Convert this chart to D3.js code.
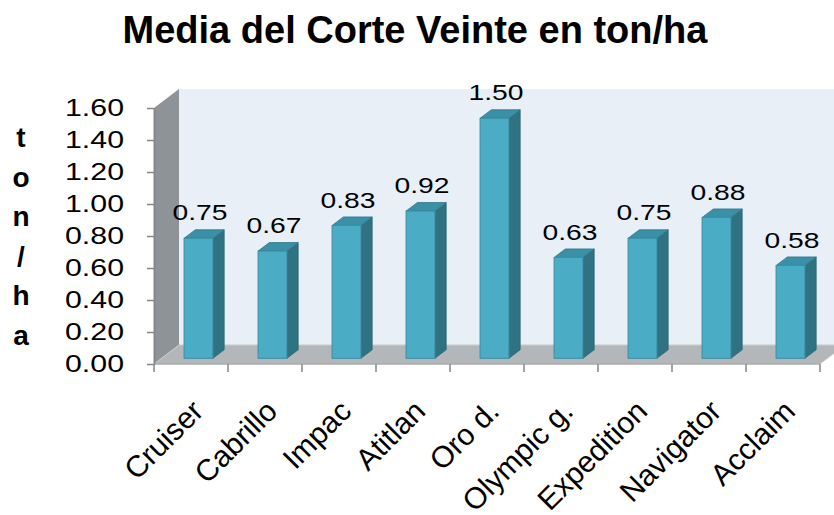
<!DOCTYPE html>
<html>
<head>
<meta charset="utf-8">
<script src="https://cdnjs.cloudflare.com/ajax/libs/d3/7.8.5/d3.min.js"></script>
<style>
body { margin: 0; background: #fff; }
text { font-family: "Liberation Sans", Arial, sans-serif; }
</style>
</head>
<body>
<svg width="834" height="515"></svg>
<script>
var categories = ["Cruiser", "Cabrillo", "Impac", "Atitlan", "Oro d.", "Olympic g.", "Expedition", "Navigator", "Acclaim"];
var values = [0.75, 0.67, 0.83, 0.92, 1.50, 0.63, 0.75, 0.88, 0.58];
var yTicks = [0, 0.2, 0.4, 0.6, 0.8, 1.0, 1.2, 1.4, 1.6];
var yTitle = ["t", "o", "n", "/", "h", "a"];
var title = "Media del Corte Veinte en ton/ha";

var svg = d3.select("svg");

var x = d3.scaleBand().domain(categories).range([154, 820]);
var y = d3.scaleLinear().domain([0, 1.6]).range([364, 108]);

// depth of the 3d box
var dx = 25, dy = -19;
var x0 = x.range()[0], x1 = x.range()[1];
var yb = y(0), yt = y(1.6);

function poly(pts) { return "M" + pts.map(function(p) { return p.join(","); }).join("L") + "Z"; }

// walls
svg.append("path").attr("d", poly([[x0 + dx, yt + dy], [x1 + dx, yt + dy], [x1 + dx, yb + dy], [x0 + dx, yb + dy]]))
  .attr("fill", "#e8eff7");
svg.append("path").attr("d", poly([[x0, yt], [x0 + dx, yt + dy], [x0 + dx, yb + dy], [x0, yb]]))
  .attr("fill", "#8e9397");
svg.append("path").attr("d", poly([[x0, yb], [x1, yb], [x1 + dx, yb + dy], [x0 + dx, yb + dy]]))
  .attr("fill", "#b4b7ba").attr("stroke", "#c9cbcd").attr("stroke-width", 1);

// bars
var bw = x.bandwidth() * 0.39;
var fo = 0.3, bo = 0.75; // front / back depth fraction
var bars = svg.append("g").selectAll("g").data(values).enter().append("g");

bars.each(function(v, i) {
  var g = d3.select(this);
  var cx = x(categories[i]) + x.bandwidth() / 2;
  var l = cx + dx * fo - bw / 2, r = l + bw;
  var top = y(v) + dy * fo, bot = y(0) + dy * fo;
  var ox = dx * (bo - fo), oy = dy * (bo - fo);
  g.append("path").attr("d", poly([[r, top], [r + ox, top + oy], [r + ox, bot + oy], [r, bot]]))
    .attr("fill", "#2f7282").attr("stroke", "#2a6878").attr("stroke-width", 0.8);
  g.append("path").attr("d", poly([[l, top], [l + ox, top + oy], [r + ox, top + oy], [r, top]]))
    .attr("fill", "#3a90a6").attr("stroke", "#2f7a8c").attr("stroke-width", 0.8);
  g.append("rect").attr("x", l).attr("y", top).attr("width", bw).attr("height", bot - top)
    .attr("fill", "#4bacc6").attr("stroke", "#3a8ea5").attr("stroke-width", 1);
  g.append("text").attr("x", cx + 9).attr("y", top - 18)
    .attr("text-anchor", "middle").attr("font-size", 22)
    .attr("textLength", 55).attr("lengthAdjust", "spacingAndGlyphs")
    .text(d3.format(".2f")(v));
});

// y axis
var yAxis = svg.append("g").attr("transform", "translate(" + x0 + ",0)")
  .call(d3.axisLeft(y).tickValues(yTicks).tickSize(7).tickSizeOuter(0).tickPadding(23).tickFormat(d3.format(".2f")));
yAxis.select(".domain").attr("stroke", "#868686").attr("stroke-width", 2);
yAxis.selectAll(".tick line").attr("stroke", "#868686").attr("stroke-width", 1.5);
yAxis.selectAll(".tick text").attr("font-size", 24).attr("fill", "#000").attr("font-family", "Liberation Sans, Arial, sans-serif")
  .attr("dy", "0.32em").attr("textLength", 59).attr("lengthAdjust", "spacingAndGlyphs");

// x axis ticks at band edges
var edges = categories.map(function(c) { return x(c); }).concat([x1]);
svg.append("g").selectAll("line").data(edges).enter().append("line")
  .attr("x1", function(d) { return d; }).attr("x2", function(d) { return d; })
  .attr("y1", yb).attr("y2", yb + 8)
  .attr("stroke", "#868686").attr("stroke-width", 1.5);
svg.append("line").attr("x1", x0).attr("x2", x1).attr("y1", yb).attr("y2", yb)
  .attr("stroke", "#9a9a9a").attr("stroke-width", 1);

// category labels, rotated
svg.append("g").selectAll("text").data(categories).enter().append("text")
  .attr("transform", function(d) {
    return "translate(" + (x(d) + x.bandwidth() / 2 + 14) + "," + 413 + ") rotate(-45)";
  })
  .attr("text-anchor", "end").attr("font-size", 30)
  .text(function(d) { return d; });

// y title, letters stacked
var ty = d3.scalePoint().domain(d3.range(yTitle.length)).range([147, 345]);
svg.append("g").selectAll("text").data(yTitle).enter().append("text")
  .attr("x", 21).attr("y", function(d, i) { return ty(i); })
  .attr("text-anchor", "middle").attr("font-size", 28).attr("font-weight", "bold")
  .text(function(d) { return d; });

// title
svg.append("text").attr("x", 415).attr("y", 43)
  .attr("text-anchor", "middle").attr("font-size", 38).attr("font-weight", "bold")
  .text(title);
</script>
</body>
</html>
